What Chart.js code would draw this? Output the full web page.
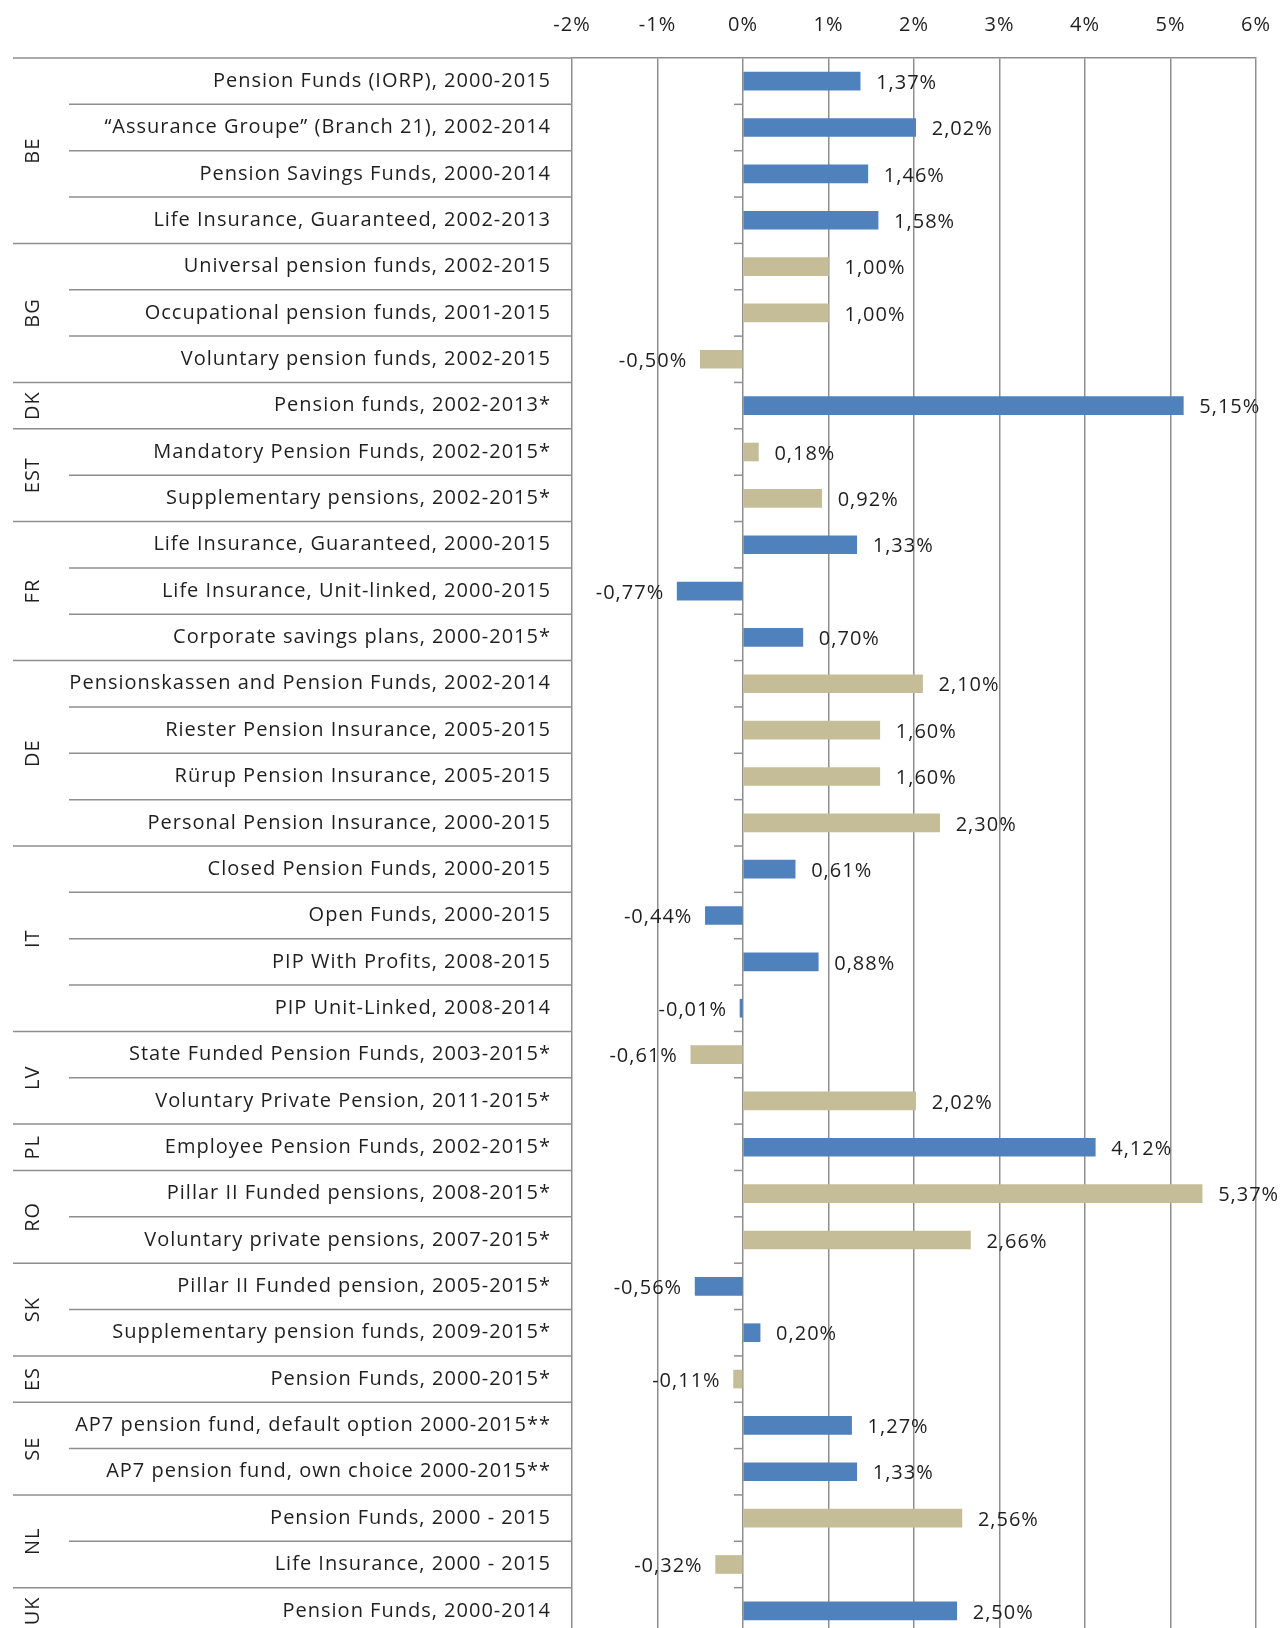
<!DOCTYPE html>
<html>
<head>
<meta charset="UTF-8">
<title>Annual real net returns</title>
<script src="https://cdn.jsdelivr.net/npm/chart.js@4.4.1/dist/chart.umd.min.js"></script>
<style>
  html, body { margin: 0; padding: 0; background: #fff; overflow: hidden; }
  #wrap { width: 1283px; height: 1628px; overflow: hidden; position: relative; }
  #wrap canvas { position: absolute; left: 0; top: 0; }
</style>
</head>
<body>
<div id="wrap"><canvas id="returnsChart"></canvas></div>
<script>
const groups = ['BE', 'BG', 'DK', 'EST', 'FR', 'DE', 'IT', 'LV', 'PL', 'RO', 'SK', 'ES', 'SE', 'NL', 'UK'];
const groupSizes = [4, 3, 1, 2, 3, 4, 4, 2, 1, 2, 2, 1, 2, 2, 1];

const categories = [
  'Pension Funds (IORP), 2000-2015',
  '\u201CAssurance Groupe\u201D (Branch 21), 2002-2014',
  'Pension Savings Funds, 2000-2014',
  'Life Insurance, Guaranteed, 2002-2013',
  'Universal pension funds, 2002-2015',
  'Occupational pension funds, 2001-2015',
  'Voluntary pension funds, 2002-2015',
  'Pension funds, 2002-2013*',
  'Mandatory Pension Funds, 2002-2015*',
  'Supplementary pensions, 2002-2015*',
  'Life Insurance, Guaranteed, 2000-2015',
  'Life Insurance, Unit-linked, 2000-2015',
  'Corporate savings plans, 2000-2015*',
  'Pensionskassen and Pension Funds, 2002-2014',
  'Riester Pension Insurance, 2005-2015',
  'R\u00FCrup Pension Insurance, 2005-2015',
  'Personal Pension Insurance, 2000-2015',
  'Closed Pension Funds, 2000-2015',
  'Open Funds, 2000-2015',
  'PIP With Profits, 2008-2015',
  'PIP Unit-Linked, 2008-2014',
  'State Funded Pension Funds, 2003-2015*',
  'Voluntary Private Pension, 2011-2015*',
  'Employee Pension Funds, 2002-2015*',
  'Pillar II Funded pensions, 2008-2015*',
  'Voluntary private pensions, 2007-2015*',
  'Pillar II Funded pension, 2005-2015*',
  'Supplementary pension funds, 2009-2015*',
  'Pension Funds, 2000-2015*',
  'AP7 pension fund, default option 2000-2015**',
  'AP7 pension fund, own choice 2000-2015**',
  'Pension Funds, 2000 - 2015',
  'Life Insurance, 2000 - 2015',
  'Pension Funds, 2000-2014'
];

const returns = [
  1.37, 2.02, 1.46, 1.58,
  1.00, 1.00, -0.50,
  5.15,
  0.18, 0.92,
  1.33, -0.77, 0.70,
  2.10, 1.60, 1.60, 2.30,
  0.61, -0.44, 0.88, -0.01,
  -0.61, 2.02,
  4.12,
  5.37, 2.66,
  -0.56, 0.20,
  -0.11,
  1.27, 1.33,
  2.56, -0.32,
  2.50
];

const xMin = -2;
const xMax = 6;

const BLUE = '#4F81BD';
const TAN = '#C4BD97';
const LINE = '#8e8e8e';
const TEXT = '#1f1f1f';
const FONT_FAMILY = "'Open Sans', sans-serif";
const FONT_SIZE = 20;

// country blocks alternate blue / tan
const barColors = [];
groupSizes.forEach((n, g) => {
  for (let i = 0; i < n; i++) barColors.push(g % 2 === 0 ? BLUE : TAN);
});

function pct(v) {
  return v.toFixed(2).replace('.', ',') + '%';
}

function hline(ctx, x1, x2, y) {
  ctx.beginPath();
  ctx.moveTo(x1, y);
  ctx.lineTo(x2, y);
  ctx.stroke();
}

// the source text is set a bit loose, so widen every string a little
const spacing = {
  id: 'spacing',
  beforeUpdate(chart) { chart.ctx.letterSpacing = '1px'; },
  beforeDraw(chart) { chart.ctx.letterSpacing = '1px'; }
};

// row rules, country labels and the little ticks on the 0% axis
const tablePlugin = {
  id: 'tablePlugin',
  afterDraw(chart) {
    const ctx = chart.ctx;
    const area = chart.chartArea;
    const yScale = chart.scales.y;
    const x0 = chart.scales.x.getPixelForValue(0);
    const rowH = (area.bottom - area.top) / categories.length;

    ctx.save();
    ctx.strokeStyle = LINE;
    ctx.lineWidth = 1.5;
    ctx.fillStyle = TEXT;
    ctx.font = FONT_SIZE + 'px ' + FONT_FAMILY;

    let row = 0;
    groupSizes.forEach((n, g) => {
      for (let i = 0; i < n; i++) {
        const top = yScale.getPixelForValue(row) - rowH / 2;
        hline(ctx, i === 0 ? 13 : 69, area.left, top);
        if (row > 0) hline(ctx, x0 - 9, x0, top);
        row++;
      }
      const yc = (yScale.getPixelForValue(row - n) + yScale.getPixelForValue(row - 1)) / 2;
      ctx.save();
      ctx.translate(33, yc);
      ctx.rotate(-Math.PI / 2);
      ctx.textAlign = 'center';
      ctx.textBaseline = 'middle';
      ctx.fillText(groups[g], 0, 0);
      ctx.restore();
    });
    ctx.restore();
  }
};

const valueLabels = {
  id: 'valueLabels',
  afterDatasetsDraw(chart) {
    const ctx = chart.ctx;
    const meta = chart.getDatasetMeta(0);
    const x0 = chart.scales.x.getPixelForValue(0);
    ctx.save();
    ctx.fillStyle = TEXT;
    ctx.font = FONT_SIZE + 'px ' + FONT_FAMILY;
    ctx.textBaseline = 'middle';
    meta.data.forEach((bar, i) => {
      const v = returns[i];
      if (v >= 0) {
        ctx.textAlign = 'left';
        ctx.fillText(pct(v), Math.max(bar.x, x0) + 16, bar.y + 2);
      } else {
        ctx.textAlign = 'right';
        ctx.fillText(pct(v), Math.min(bar.x, x0) - 13, bar.y + 2);
      }
    });
    ctx.restore();
  }
};

const canvas = document.getElementById('returnsChart');
canvas.width = 1283;
canvas.height = 1634;
canvas.style.width = '1283px';
canvas.style.height = '1634px';

new Chart(canvas.getContext('2d'), {
  type: 'bar',
  data: {
    labels: categories,
    datasets: [{
      data: returns,
      backgroundColor: barColors,
      borderWidth: 0,
      barThickness: 18,
      minBarLength: 3
    }]
  },
  options: {
    indexAxis: 'y',
    responsive: false,
    animation: false,
    layout: { padding: { left: 0, right: 27, top: 0, bottom: 0 } },
    plugins: {
      legend: { display: false },
      tooltip: { enabled: false }
    },
    scales: {
      x: {
        type: 'linear',
        position: 'top',
        min: xMin,
        max: xMax,
        ticks: {
          stepSize: 1,
          padding: 21,
          color: TEXT,
          font: { family: FONT_FAMILY, size: FONT_SIZE },
          callback: v => v + '%'
        },
        grid: { color: LINE, lineWidth: 1.5, drawTicks: false },
        border: { color: LINE, width: 1.5 },
        afterFit: s => {
          s.height = 58;
          s.paddingLeft = 0;
          s.paddingRight = 0;
        }
      },
      y: {
        type: 'category',
        ticks: {
          autoSkip: false,
          padding: 21,
          color: TEXT,
          font: { family: FONT_FAMILY, size: FONT_SIZE }
        },
        grid: { display: false, drawTicks: false },
        border: { display: false },
        afterFit: s => {
          s.width = 572;
          s.paddingTop = 0;
          s.paddingBottom = 0;
        }
      }
    }
  },
  plugins: [spacing, tablePlugin, valueLabels]
});
</script>
</body>
</html>
